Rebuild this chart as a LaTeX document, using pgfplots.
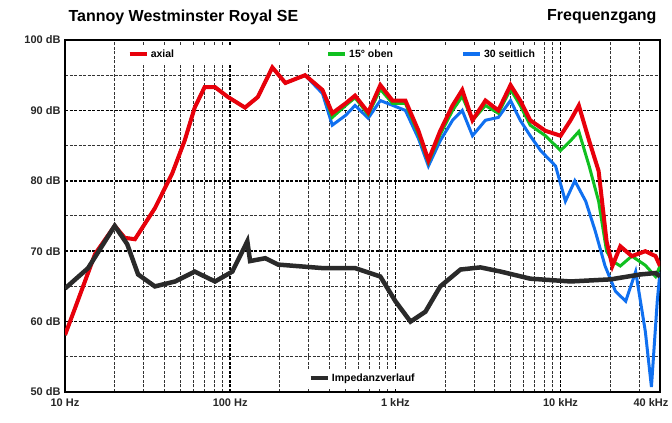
\documentclass[border=0pt]{standalone}
\usepackage{fontspec}
\setmainfont{Liberation Sans}
\usepackage{pgfplots}
\pgfplotsset{compat=1.18}
\definecolor{axcol}{HTML}{E8000B}
\definecolor{grcol}{HTML}{10C020}
\definecolor{blcol}{HTML}{1070F0}
\definecolor{impcol}{HTML}{2A2A2A}

\begin{document}
\begin{tikzpicture}
\useasboundingbox (-65pt,-31pt) rectangle (607pt,392pt);
\begin{axis}[
  scale only axis, width=595pt, height=352pt,
  xmode=log, xmin=10, xmax=40000, ymin=50, ymax=100,
  axis line style={black, line width=1.4pt},
  xtick={10,100,1000,10000,40000},
  xticklabels={10 Hz,100 Hz,1 kHz,10 kHz,\hspace*{-18pt}40 kHz},
  minor xtick={20,30,40,50,60,70,80,90,200,300,400,500,600,700,800,900,2000,3000,4000,5000,6000,7000,8000,9000,20000,30000},
  ytick={50,60,70,80,90,100},
  yticklabels={50 dB,60 dB,70 dB,80 dB,90 dB,100 dB},
  minor ytick={55,65,75,85,95},
  grid=both,
  major grid style={black, line width=1.5pt, dash pattern=on 3pt off 1.5pt},
  minor grid style={black!80, line width=1pt, dash pattern=on 3pt off 1.5pt},
  tick style={draw=none},
  ticklabel style={font=\bfseries\fontsize{11}{12}\selectfont, text=black!85},
  xticklabel style={yshift=-3pt},
  yticklabel style={xshift=-1pt},
  legend style={at={(0.1,0.985)}, anchor=north west, draw=none, fill=white,
    legend columns=3, font=\bfseries\fontsize{10.5}{12}\selectfont,
    /tikz/column 2/.style={column sep=150pt},
    /tikz/column 4/.style={column sep=66pt}},
  legend cell align=left,
]
\addlegendimage{axcol, line width=4pt}
\addlegendentry{axial}
\addlegendimage{grcol, line width=4pt}
\addlegendentry{15° oben}
\addlegendimage{blcol, line width=4pt}
\addlegendentry{30 seitlich}
\addplot[blcol, line width=3pt, forget plot] coordinates {
(10,58.1) (11.5,61.9) (15.2,69.6) (20,73.6) (23,71.9) (26.5,71.7) (35,76.1)
(44.5,81) (53,85.7) (61,90.4) (70,93.3) (81,93.3) (97,91.9) (123,90.4)
(147,91.9) (180,96.1) (216,93.9) (284,95) (362,92.4) (415,87.9) (500,89.3)
(570,90.7) (685,88.9) (811,91.4) (1150,90) (1380,86) (1585,82.1) (1870,85.7)
(2220,88.6) (2540,90) (2930,86.4) (3510,88.6) (4200,89) (4980,91.4)
(5700,88.6) (6550,86.4) (7568,84.3) (9330,82.1) (10700,77.1) (12200,80)
(14200,77.1) (16200,72.9) (18600,67.9) (21500,64.3) (24800,62.9)
(28500,67.1) (32600,58.6) (35500,50.7) (38500,62.9) (40000,67.1)};
\addplot[grcol, line width=3pt, forget plot] coordinates {
(10,58.1) (11.5,61.9) (15.2,69.6) (20,73.6) (23,71.9) (26.5,71.7) (35,76.1)
(44.5,81) (53,85.7) (61,90.4) (70,93.3) (81,93.3) (97,91.9) (123,90.4)
(147,91.9) (180,96.1) (216,93.9) (284,95) (362,92.9) (415,89) (500,90.7)
(570,91.8) (685,89.4) (811,93) (960,91) (1150,91) (1380,86.6) (1585,82.6)
(1870,86.6) (2220,90) (2540,92) (2930,88.6) (3510,90.7) (4200,89.6)
(4980,93) (5700,90.7) (6550,87.9) (8100,86.4) (10000,84.3) (11500,85.7)
(12900,87) (14900,82.1) (17000,77.1) (19000,70) (20600,68.6) (23000,67.9)
(27000,69.3) (32600,68) (37600,66.4) (40000,67.9)};
\addplot[axcol, line width=4pt, forget plot] coordinates {
(10,58.1) (11.5,61.9) (15.2,69.6) (20,73.6) (23,71.9) (26.5,71.7) (35,76.1)
(44.5,81) (53,85.7) (61,90.4) (70,93.3) (81,93.3) (97,91.9) (123,90.4)
(147,91.9) (180,96.1) (216,93.9) (284,95) (362,92.9) (415,89.6) (500,91)
(570,92.1) (685,89.7) (811,93.6) (960,91.4) (1150,91.4) (1380,87.1)
(1585,82.9) (1870,87.1) (2220,90.7) (2540,92.9) (2930,88.6) (3510,91.4)
(4200,90) (4980,93.6) (5700,91.4) (6550,88.6) (8100,87.1) (10000,86.4)
(11500,88.6) (12900,90.7) (14900,85.7) (17000,81.4) (19000,71.4)
(20600,67.9) (23000,70.7) (27000,69.3) (32600,70) (37600,69.3) (40000,67.9)};
\end{axis}
\begin{axis}[
  scale only axis, width=595pt, height=352pt,
  xmode=log, xmin=10, xmax=40000, ymin=50, ymax=100,
  axis lines=none,
  legend style={at={(0.5,0.015)}, anchor=south, draw=none, fill=white,
    font=\bfseries\fontsize{10.5}{12}\selectfont},
]
\addplot[impcol, line width=4.5pt] coordinates {
(10,64.7) (13.8,67.6) (20,73.6) (23.8,71) (27.7,66.7) (35,65) (46.4,65.7)
(61,67.1) (81,65.7) (103,67.1) (127,71.4) (132,68.6) (163,69) (195,68.1)
(362,67.6) (570,67.6) (811,66.4) (1000,62.9) (1235,60) (1520,61.4)
(1870,65) (2480,67.4) (3275,67.7) (4350,67.1) (6550,66.1) (11500,65.7)
(20100,66) (30500,66.7) (37600,66.9) (40000,66.4)};
\addlegendentry{Impedanzverlauf}
\end{axis}
\node[anchor=west, font=\bfseries\fontsize{16}{18}\selectfont] at (0pt,375pt) {Tannoy Westminster Royal SE};
\node[anchor=east, font=\bfseries\fontsize{16}{18}\selectfont] at (595pt,375pt) {Frequenzgang};
\end{tikzpicture}
\end{document}
